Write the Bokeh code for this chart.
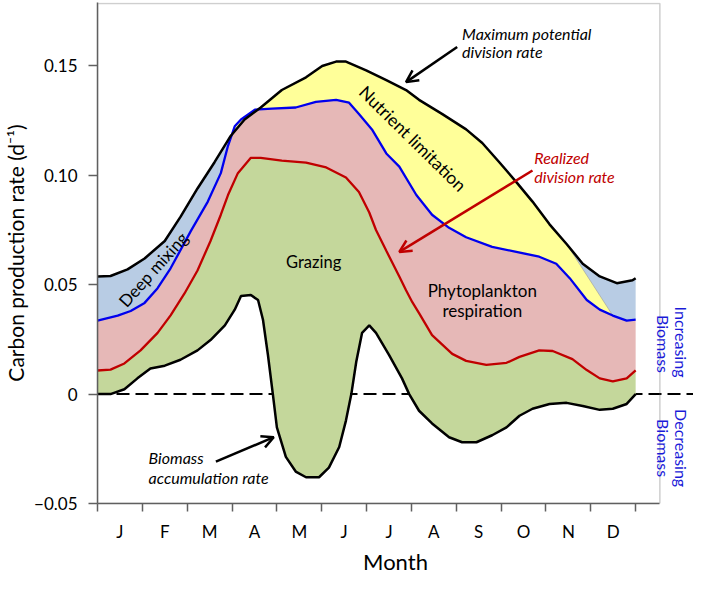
import math
from bokeh.plotting import figure
from bokeh.models import FixedTicker, Span, BoxAnnotation, Label, Arrow, OpenHead, Range1d
from bokeh.embed import file_html
from bokeh.resources import INLINE

# ---------------- data (x in months from 1 Jan, y in d^-1) ----------------
month_labels = ["J", "F", "M", "A", "M", "J", "J", "A", "S", "O", "N", "D"]
month_centers = [0.5, 1.5, 2.5, 3.5, 4.5, 5.5, 6.5, 7.5, 8.5, 9.5, 10.5, 11.5]
month_bounds = [0, 1, 2, 3, 4, 5, 6, 7, 8, 9, 10, 11, 12]

# Maximum potential division rate
max_x = [0, 0.29, 0.67, 1.05, 1.50, 1.85, 2.23, 2.61, 2.97, 3.28, 3.64, 4.11, 4.65, 5.01,
         5.32, 5.54, 5.99, 6.44, 6.88, 7.17, 7.69, 8.22, 8.58, 8.96, 9.34, 9.70, 10.08,
         10.46, 10.82, 11.20, 11.58, 11.93, 12.0]
max_y = [0.0538, 0.054, 0.057, 0.062, 0.070, 0.081, 0.094, 0.106, 0.118, 0.1255, 0.131,
         0.139, 0.1448, 0.150, 0.152, 0.152, 0.148, 0.1435, 0.139, 0.1345, 0.128, 0.121,
         0.1148, 0.106, 0.0969, 0.088, 0.0776, 0.0686, 0.0596, 0.0538, 0.0507, 0.052, 0.053]

# Division rate after deep mixing / nutrient limitation
pot_x = [0, 0.45, 0.74, 1.05, 1.34, 1.63, 2.08, 2.46, 2.75, 2.91, 3.06, 3.20, 3.51, 3.89,
         4.42, 4.87, 5.32, 5.61, 5.83, 6.12, 6.44, 6.73, 7.11, 7.46, 7.84, 8.22, 8.80,
         9.34, 9.85, 10.23, 10.53, 10.91, 11.20, 11.49, 11.80, 12.0]
pot_y = [0.0336, 0.0359, 0.038, 0.0417, 0.0484, 0.0575, 0.0745, 0.088, 0.101, 0.1135,
         0.1224, 0.1255, 0.130, 0.1305, 0.131, 0.1336, 0.1345, 0.1332, 0.128, 0.121, 0.110,
         0.104, 0.091, 0.082, 0.076, 0.0717, 0.0673, 0.065, 0.0628, 0.0596, 0.053, 0.043,
         0.0386, 0.0359, 0.0336, 0.034]

# Realized division rate
real_x = [0, 0.29, 0.60, 0.96, 1.34, 1.63, 1.94, 2.23, 2.52, 2.75, 2.91, 3.13, 3.42, 3.64,
          4.11, 4.65, 5.10, 5.54, 5.83, 6.06, 6.21, 6.44, 6.73, 6.88, 7.02, 7.17, 7.46,
          7.91, 8.22, 8.67, 9.12, 9.41, 9.85, 10.15, 10.59, 10.91, 11.20, 11.49, 11.80, 12.0]
real_y = [0.0108, 0.0112, 0.014, 0.020, 0.028, 0.036, 0.046, 0.0565, 0.070, 0.082, 0.091,
          0.101, 0.108, 0.108, 0.1067, 0.1058, 0.1036, 0.099, 0.0924, 0.083, 0.075, 0.0655,
          0.0538, 0.0475, 0.042, 0.037, 0.027, 0.0184, 0.0152, 0.0134, 0.0143, 0.017, 0.020,
          0.0197, 0.016, 0.011, 0.0072, 0.0058, 0.0072, 0.0108]

# Biomass accumulation rate
acc_x = [0, 0.29, 0.60, 0.89, 1.18, 1.50, 1.85, 2.23, 2.52, 2.84, 3.06, 3.20, 3.42, 3.58,
         3.69, 3.80, 3.91, 4.00, 4.20, 4.42, 4.65, 4.94, 5.16, 5.39, 5.54, 5.66, 5.77, 5.90,
         6.06, 6.21, 6.50, 6.79, 6.95, 7.17, 7.46, 7.84, 8.13, 8.45, 8.80, 9.12, 9.41, 9.70,
         10.08, 10.46, 10.82, 11.20, 11.49, 11.80, 12.0]
acc_y = [0, 0, 0.0022, 0.0072, 0.0117, 0.013, 0.0157, 0.020, 0.0247, 0.0314, 0.0386,
         0.0448, 0.0453, 0.043, 0.034, 0.018, 0.0, -0.0152, -0.0287, -0.0354, -0.038, -0.038,
         -0.0336, -0.0242, -0.0121, 0, 0.0148, 0.028, 0.0314, 0.028, 0.0179, 0.0072, 0,
         -0.0076, -0.0134, -0.0197, -0.022, -0.022, -0.0188, -0.0152, -0.0099, -0.0067,
         -0.0045, -0.004, -0.0054, -0.0072, -0.0067, -0.0045, 0]

y_ticks = [-0.05, 0, 0.05, 0.10, 0.15]
y_tick_labels = ["\u22120.05", "0", "0.05", "0.10", "0.15"]

# nutrient-limitation (yellow) region limits
NUT_START = 2.97
NUT_END_TOP = 10.46
NUT_END_BOTTOM = 11.49

# ---------------- styling ----------------
FONT = "Lato"
C_GREEN = "#c4d79b"
C_PINK = "#e6b8b7"
C_LBLUE = "#b8cce4"
C_YELLOW = "#ffff99"
C_BLUE = "#0000ee"
C_RED = "#c00000"
C_TXTBLUE = "#1a1ad8"
C_FRAME = "#606060"

X_END = 13.29
FRAME_RIGHT = 12.54
Y_TOP = 0.1790
BOX_TOP = 0.1785

p = figure(width=693, height=577, output_backend="svg", toolbar_location=None,
           x_range=Range1d(0, X_END), y_range=Range1d(-0.05, Y_TOP),
           min_border_left=91, min_border_right=0, min_border_top=2, min_border_bottom=72)
p.outline_line_color = None
p.grid.visible = False
p.background_fill_color = "white"

# fills
p.patch(real_x + acc_x[::-1], real_y + acc_y[::-1], fill_color=C_GREEN, line_color=None)
p.patch(pot_x + real_x[::-1], pot_y + real_y[::-1], fill_color=C_PINK, line_color=None)
p.patch(max_x + pot_x[::-1], max_y + pot_y[::-1], fill_color=C_LBLUE, line_color=None)
yt = [(x, y) for x, y in zip(max_x, max_y) if NUT_START <= x <= NUT_END_TOP]
yb = [(x, y) for x, y in zip(pot_x, pot_y) if NUT_START <= x <= NUT_END_BOTTOM][::-1]
p.patch([a for a, _ in yt] + [a for a, _ in yb], [b for _, b in yt] + [b for _, b in yb],
        fill_color=C_YELLOW, line_color="#9a9a9a", line_width=0.6)

# zero line
p.add_layout(Span(location=0, dimension="width", line_color="black", line_width=2,
                  line_dash="13 6", level="underlay"))

# curves
p.line(acc_x, acc_y, line_color="black", line_width=2.5)
p.line(real_x, real_y, line_color=C_RED, line_width=2.3)
p.line(pot_x, pot_y, line_color=C_BLUE, line_width=2.3)
p.line(max_x, max_y, line_color="black", line_width=2.5)

# frame box
p.add_layout(BoxAnnotation(left=0, right=FRAME_RIGHT, bottom=-0.05, top=BOX_TOP,
                           fill_alpha=0, fill_color=None, line_color=C_FRAME,
                           line_width=1.5))

# axes
xa = p.xaxis[0]
xa.ticker = FixedTicker(ticks=month_centers, minor_ticks=month_bounds)
xa.major_label_overrides = {c: m for c, m in zip(month_centers, month_labels)}
xa.major_tick_line_color = None
xa.major_tick_out = 8
xa.minor_tick_out = 8
xa.minor_tick_in = 0
xa.minor_tick_line_color = C_FRAME
xa.minor_tick_line_width = 1.5
xa.axis_line_color = C_FRAME
xa.axis_line_width = 1.5
xa.bounds = (0, FRAME_RIGHT)
xa.major_label_standoff = 9
xa.major_label_text_font = FONT
xa.major_label_text_font_size = "17px"
xa.major_label_text_color = "black"
xa.axis_label = "Month"
xa.axis_label_text_font = FONT
xa.axis_label_text_font_style = "normal"
xa.axis_label_text_font_size = "22px"
xa.axis_label_text_color = "black"
xa.axis_label_standoff = 3

ya = p.yaxis[0]
ya.ticker = FixedTicker(ticks=y_ticks, minor_ticks=[])
ya.major_label_overrides = {t: s for t, s in zip(y_ticks, y_tick_labels)}
ya.major_tick_out = 9
ya.major_tick_in = 0
ya.major_tick_line_color = C_FRAME
ya.major_tick_line_width = 1.5
ya.minor_tick_line_color = None
ya.axis_line_color = C_FRAME
ya.axis_line_width = 1.5
ya.major_label_standoff = 11
ya.major_label_text_font = FONT
ya.major_label_text_font_size = "17px"
ya.major_label_text_color = "black"
ya.axis_label = "Carbon production rate (d\u207b\u00b9)"
ya.axis_label_text_font = FONT
ya.axis_label_text_font_style = "normal"
ya.axis_label_text_font_size = "21px"
ya.axis_label_text_color = "black"
ya.axis_label_standoff = 3


def lab(x, y, text, size="16px", color="black", style="normal", align="center", angle=0.0):
    p.add_layout(Label(x=x, y=y, text=text, text_font=FONT, text_font_size=size,
                       text_color=color, text_font_style=style, text_align=align,
                       text_baseline="middle", angle=angle))


lab(1.24, 0.057, "Deep mixing", size="17px", angle=math.radians(48))
lab(7.03, 0.1168, "Nutrient limitation", size="17.5px", angle=math.radians(-44.5))
lab(4.82, 0.0605, "Grazing", size="16.5px")
lab(8.58, 0.0475, "Phytoplankton", size="17px")
lab(8.58, 0.0381, "respiration", size="17px")
lab(8.13, 0.165, "Maximum potential", size="16px", style="italic", align="left")
lab(8.13, 0.1565, "division rate", size="16px", style="italic", align="left")
lab(9.74, 0.108, "Realized", size="16px", style="italic", align="left", color=C_RED)
lab(9.74, 0.0996, "division rate", size="16px", style="italic", align="left", color=C_RED)
lab(1.14, -0.0291, "Biomass", size="16px", style="italic", align="left")
lab(1.14, -0.0381, "accumulation rate", size="16px", style="italic", align="left")

lab(13.03, 0.0238, "Increasing", size="16px", color=C_TXTBLUE, angle=-math.pi / 2)
lab(12.62, 0.0229, "Biomass", size="16px", color=C_TXTBLUE, angle=-math.pi / 2)
lab(13.03, -0.0247, "Decreasing", size="16px", color=C_TXTBLUE, angle=-math.pi / 2)
lab(12.62, -0.0247, "Biomass", size="16px", color=C_TXTBLUE, angle=-math.pi / 2)

# arrows
p.add_layout(Arrow(end=OpenHead(size=12, line_width=2.5, line_color="black"),
                   x_start=8.02, y_start=0.1587, x_end=6.88, y_end=0.1426,
                   line_color="black", line_width=2.5))
p.add_layout(Arrow(end=OpenHead(size=12, line_width=2.5, line_color=C_RED),
                   x_start=9.70, y_start=0.1022, x_end=6.73, y_end=0.065,
                   line_color=C_RED, line_width=2.5))
p.add_layout(Arrow(end=OpenHead(size=12, line_width=2.5, line_color="black"),
                   x_start=2.64, y_start=-0.0309, x_end=3.93, y_end=-0.0197,
                   line_color="black", line_width=2.5))

open("out.html", "w").write(file_html(p, INLINE))
